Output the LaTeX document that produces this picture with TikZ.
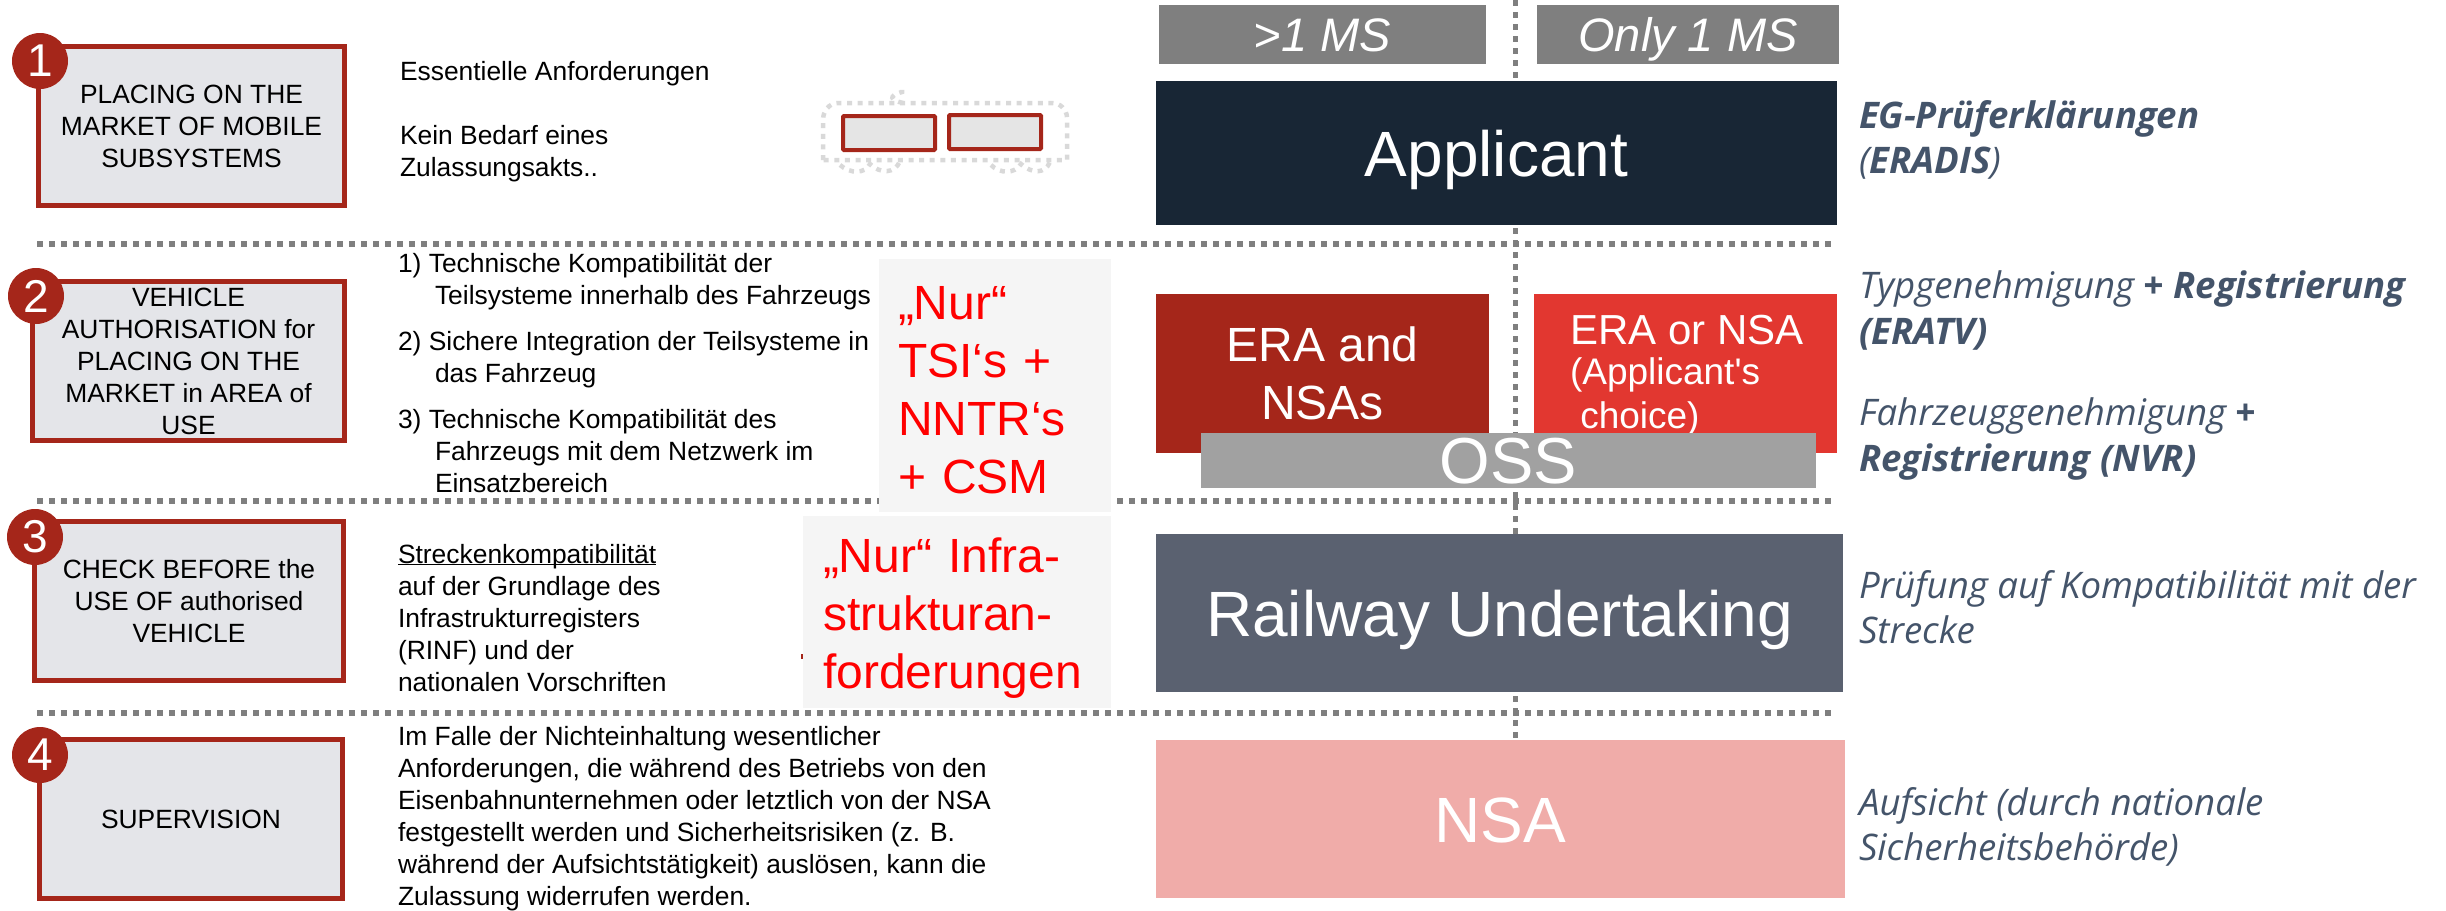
\documentclass[tikz,border=0pt]{standalone}
\usepackage{fontspec}
\setmainfont{Liberation Sans}
\newfontfamily\plainfont{Liberation Sans}
\newfontfamily\notefont{Open Sans}
\usepackage{xcolor}
\usetikzlibrary{positioning}
\definecolor{myred}{HTML}{A5261A}
\definecolor{mylightred}{HTML}{E23730}
\definecolor{mygrey}{HTML}{7F7F7F}
\definecolor{mynavy}{HTML}{182635}
\definecolor{myslate}{HTML}{5A6170}
\definecolor{myrose}{HTML}{F0ACA9}
\definecolor{mynote}{HTML}{44546A}
\definecolor{mypale}{HTML}{E4E5E9}
\tikzset{x=1pt, y=-1pt, every node/.style={inner sep=0pt, outer sep=0pt, align=center}}
\tikzstyle{stage} = [draw=myred, line width=5pt, fill=mypale, font={\fontsize{26.4}{32}\selectfont}]
\tikzstyle{badge} = [circle, fill=myred, text=white, minimum size=56pt, font={\fontsize{46}{46}\selectfont}]
\tikzstyle{block} = [text=white, font={\fontsize{64}{74}\selectfont}]
\tikzstyle{capblock} = [block, text height=46pt, text depth=0pt]
\tikzstyle{head} = [fill=mygrey, text=white, text height=34pt, text depth=0pt, font={\fontsize{47}{50}\selectfont\itshape}]
\tikzstyle{body} = [anchor=north west, align=left, font={\fontsize{26.4}{32}\selectfont}]
\tikzstyle{hint} = [fill=black!4, anchor=north west, align=left, text=red, font={\fontsize{48}{58}\selectfont}]
\tikzstyle{note} = [anchor=north west, align=left, text=mynote, font={\notefont\fontsize{36.6}{45.5}\selectfont\itshape}]
\tikzstyle{sep} = [draw=mygrey, line width=5.5pt, dash pattern=on 6pt off 6pt]
\tikzstyle{mid} = [draw=mygrey, line width=5pt, dash pattern=on 6pt off 6pt]
\tikzstyle{cage} = [draw=black!15, line width=4.5pt, dash pattern=on 5pt off 5.6pt]
\tikzstyle{car} = [draw=myred, line width=4pt, rounded corners=1pt, fill=black!10, minimum width=92pt, minimum height=34pt]
\begin{document}
\begin{tikzpicture}
  \useasboundingbox (0,0) rectangle (2446,910);
  \coordinate (midtop) at (1515,0);
  \coordinate (midlow) at (1515,745);
  % dotted lines
  \draw[mid] (midtop) -- (midlow);
  \draw[sep] (37,244) -- (1832,244);
  \draw[sep] (37,501) -- (1832,501);
  \draw[sep] (37,713) -- (1832,713);
  % left boxes
  \node[stage, minimum width=306pt, minimum height=159pt] (place) at (191.5,126) {PLACING ON THE\\MARKET OF MOBILE\\SUBSYSTEMS};
  \node[stage, minimum width=312pt, minimum height=159pt] (auth) at (188.5,361) {VEHICLE\\AUTHORISATION for\\PLACING ON THE\\MARKET in AREA of\\USE};
  \node[stage, minimum width=309pt, minimum height=159pt] (check) at (189,601) {CHECK BEFORE the\\USE OF authorised\\VEHICLE};
  \node[stage, minimum width=303pt, minimum height=159pt] (superv) at (191,819) {SUPERVISION};
  \node[badge] (one) at (40,61) {1};
  \node[badge] (two) at (36,296) {2};
  \node[badge] (three) at (35,537) {3};
  \node[badge] (four) at (40,755) {4};
  % middle texts
  \node[body] (req) at (400,61) {Essentielle Anforderungen\\[32pt]Kein Bedarf eines\\Zulassungsakts..};
  \node[body] (compat) at (398,253) {1) Technische Kompatibilität der\\\hspace*{37pt}Teilsysteme innerhalb des Fahrzeugs\\[14pt]2) Sichere Integration der Teilsysteme in\\\hspace*{37pt}das Fahrzeug\\[14pt]3) Technische Kompatibilität des\\\hspace*{37pt}Fahrzeugs mit dem Netzwerk im\\\hspace*{37pt}Einsatzbereich};
  \node[body] (track) at (398,544) {\rule{0pt}{19pt}\underline{\smash{Streckenkompatibilität}}\\auf der Grundlage des\\Infrastrukturregisters\\(RINF) und der\\nationalen Vorschriften};
  \node[body] (revoke) at (398,726) {Im Falle der Nichteinhaltung wesentlicher\\Anforderungen, die während des Betriebs von den\\Eisenbahnunternehmen oder letztlich von der NSA\\festgestellt werden und Sicherheitsrisiken (z. B.\\während der Aufsichtstätigkeit) auslösen, kann die\\Zulassung widerrufen werden.};
  % small train
  \draw[cage] (823,160) -- (823,120) to[out=90, in=180] (838,103) -- (1052,103) to[out=0, in=90] (1067,118) -- (1067,160) -- cycle;
  \draw[cage] (840,165) .. controls (850,174) and (865,174) .. (870,164) .. controls (880,174) and (895,174) .. (900,161);
  \draw[cage] (991,165) .. controls (1000,174) and (1015,174) .. (1021,164) .. controls (1032,174) and (1045,174) .. (1050,162);
  \draw[cage] (903,103) .. controls (890,100) and (888,96) .. (902,92) -- (902,88);
  \node[car] (cara) at (889,133) {};
  \node[car, right=14pt of cara, yshift=1pt] (carb) {};
  % hints
  \node[hint, minimum width=232pt, minimum height=253pt, text width=194pt, inner xsep=19pt] (hinta) at (879,259) {\rule{0pt}{42pt}„Nur“\\TSI‘s +\\NNTR‘s\\+ CSM};
  \node[hint, minimum width=308pt, minimum height=192pt, text width=268pt, inner xsep=20pt] (hintb) at (803,516) {\rule{0pt}{46pt}„Nur“ Infra-\\strukturan-\\forderungen};
  \node[fill=myred, minimum width=2pt, minimum height=5pt] (tick) at (802,656) {};
  % right column
  \node[head, minimum width=327pt, minimum height=59pt] (multi) at (1322.5,34.5) {>1 MS};
  \node[head, minimum width=302pt, minimum height=59pt] (single) at (1688,34.5) {Only 1 MS};
  \node[capblock, fill=mynavy, minimum width=681pt, minimum height=144pt] (appl) at (1496.5,153) {Applicant};
  \node[block, fill=myred, minimum width=333pt, minimum height=159pt, font={\fontsize{48}{58}\selectfont}] (eranas) at (1322.5,373.5) {ERA and\\NSAs};
  \node[block, fill=mylightred, minimum width=303pt, minimum height=159pt] (eraor) at (1685.5,373.5) {};
  \node[anchor=north west, align=left, text=white, font={\fontsize{42}{46}\selectfont}] (eraortxt) at (1570,315) {ERA or NSA\\[-6pt]{\plainfont\fontsize{37}{46}\selectfont (Applicant's}\\[-2pt]{\fontsize{37}{46}\selectfont\ choice)}};
  \node[capblock, fill=black!37, minimum width=615pt, minimum height=55pt, font={\fontsize{65}{74}\selectfont}] (oss) at (1508.5,460.5) {OSS};
  \node[capblock, fill=myslate, minimum width=687pt, minimum height=158pt] (ru) at (1499.5,613) {Railway Undertaking};
  \node[capblock, fill=myrose, minimum width=689pt, minimum height=158pt] (nsa) at (1500.5,819) {NSA};
  % notes
  \node[note] (n1) at (1859,100) {\textbf{EG-Prüferklärungen}\\(\textbf{ERADIS})};
  \node[note] (n2) at (1859,271) {Typgenehmigung \textbf{+ Registrierung}\\\textbf{(ERATV)}};
  \node[note] (n3) at (1859,398) {Fahrzeuggenehmigung \textbf{+}\\\textbf{Registrierung (NVR)}};
  \node[note] (n4) at (1859,570) {Prüfung auf Kompatibilität mit der\\Strecke};
  \node[note] (n5) at (1859,787) {Aufsicht (durch nationale\\Sicherheitsbehörde)};
\end{tikzpicture}
\end{document}
